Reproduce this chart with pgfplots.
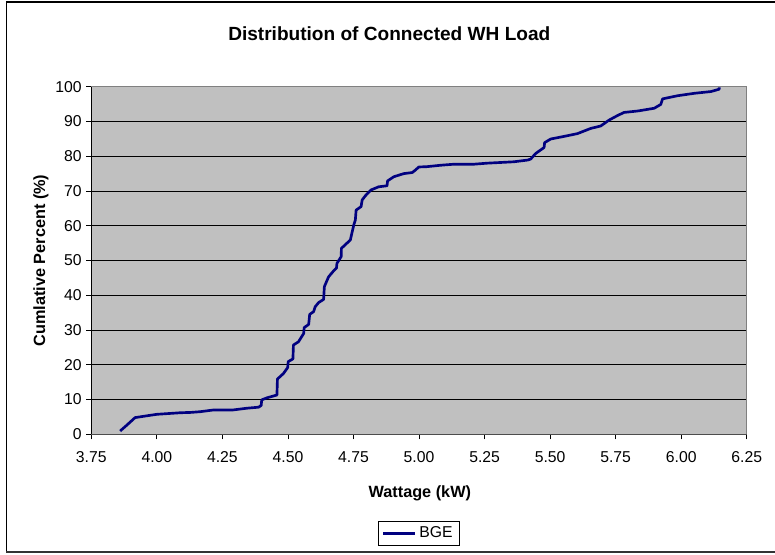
\documentclass[border=0pt]{standalone}
\usepackage{fontspec}
\setmainfont{Liberation Sans}
\usepackage{pgfplots}
\pgfplotsset{compat=1.18}
\definecolor{plotbg}{RGB}{192,192,192}
\definecolor{navyline}{RGB}{0,0,128}
\begin{document}
\begin{tikzpicture}
\useasboundingbox (-68.475pt,-89.775pt) rectangle (512.775pt,325.725pt);
\begin{axis}[
  scale only axis,
  width=491.6pt, height=260.7pt,
  xmin=3.75, xmax=6.25, ymin=0, ymax=100,
  xtick={3.75,4.00,4.25,4.50,4.75,5.00,5.25,5.50,5.75,6.00,6.25},
  xticklabels={3.75,4.00,4.25,4.50,4.75,5.00,5.25,5.50,5.75,6.00,6.25},
  ytick={0,10,...,100},
  /pgf/number format/assume math mode=true,
  ticklabel style={font=\fontsize{11.8}{13}\selectfont},
  xticklabel style={yshift=-6pt},
  tick align=outside, tick pos=left,
  major tick length=3.75pt,
  tick style={black, line width=0.6pt},
  ymajorgrids,
  major grid style={black, line width=0.6pt},
  axis background/.style={fill=plotbg},
  axis line style={draw=black!50, line width=0.8pt},
  legend style={at={(0.4995,-0.2848)}, anchor=center, draw=black, fill=white,
     font=\fontsize{11.8}{13}\selectfont, inner xsep=3pt, inner ysep=2pt},
  legend image code/.code={\draw[#1] (0pt,0pt) -- (24pt,0pt);},
  clip=false,
]
\addplot[color=navyline, line width=2pt, line join=round] table {
x y
3.860 0.95
3.885 2.6
3.917 4.8
3.960 5.3
4.000 5.75
4.050 6.0
4.089 6.2
4.130 6.3
4.165 6.5
4.216 7.0
4.290 7.0
4.343 7.5
4.388 7.8
4.398 8.3
4.400 9.9
4.420 10.5
4.458 11.3
4.460 15.9
4.483 17.5
4.499 19.2
4.501 20.9
4.519 21.7
4.521 25.7
4.540 26.6
4.560 29.0
4.562 30.7
4.579 31.6
4.583 34.5
4.598 35.3
4.604 36.7
4.617 37.9
4.636 38.8
4.639 42.5
4.655 45.3
4.674 47.0
4.685 47.8
4.687 49.2
4.703 51.1
4.704 53.5
4.738 55.9
4.751 60.2
4.757 61.6
4.760 64.5
4.779 65.5
4.783 67.4
4.795 68.6
4.817 70.3
4.846 71.2
4.878 71.5
4.880 72.9
4.904 74.1
4.942 75.0
4.974 75.3
4.986 76.0
4.999 76.9
5.031 77.0
5.082 77.4
5.133 77.7
5.209 77.7
5.260 78.0
5.362 78.4
5.415 78.9
5.426 79.2
5.445 80.8
5.477 82.5
5.479 83.9
5.502 84.95
5.553 85.7
5.604 86.5
5.655 88.0
5.693 88.7
5.725 90.4
5.757 91.7
5.782 92.6
5.833 93.0
5.897 93.8
5.922 94.9
5.929 96.5
5.986 97.4
6.050 98.1
6.113 98.6
6.132 99.0
6.145 99.3
6.145 99.8
};
\addlegendentry{BGE}
\end{axis}
% axis edge overlays
\draw[black, line width=0.7pt] (0pt,0pt) -- (0pt,260.7pt);
\draw[black!70, line width=1.2pt] (0pt,0pt) -- (491.6pt,0pt);
% chart border
\draw[black, line width=0.8pt] (515pt,324.2pt) -- (-63.6pt,324.2pt) -- (-63.6pt,-88.3pt);
\draw[black!80, line width=1.5pt] (-63.6pt,-88.3pt) -- (515pt,-88.3pt);
% titles
\node[font=\fontsize{14.3}{16}\selectfont\bfseries] at (223.5pt,300.2pt) {Distribution of Connected WH Load};
\node[font=\fontsize{12.2}{14}\selectfont\bfseries] at (246.4pt,-44.0pt) {Wattage (kW)};
\node[font=\fontsize{12.2}{14}\selectfont\bfseries, rotate=90] at (-37.7pt,130.35pt) {Cumlative Percent (\%)};
\end{tikzpicture}
\end{document}
